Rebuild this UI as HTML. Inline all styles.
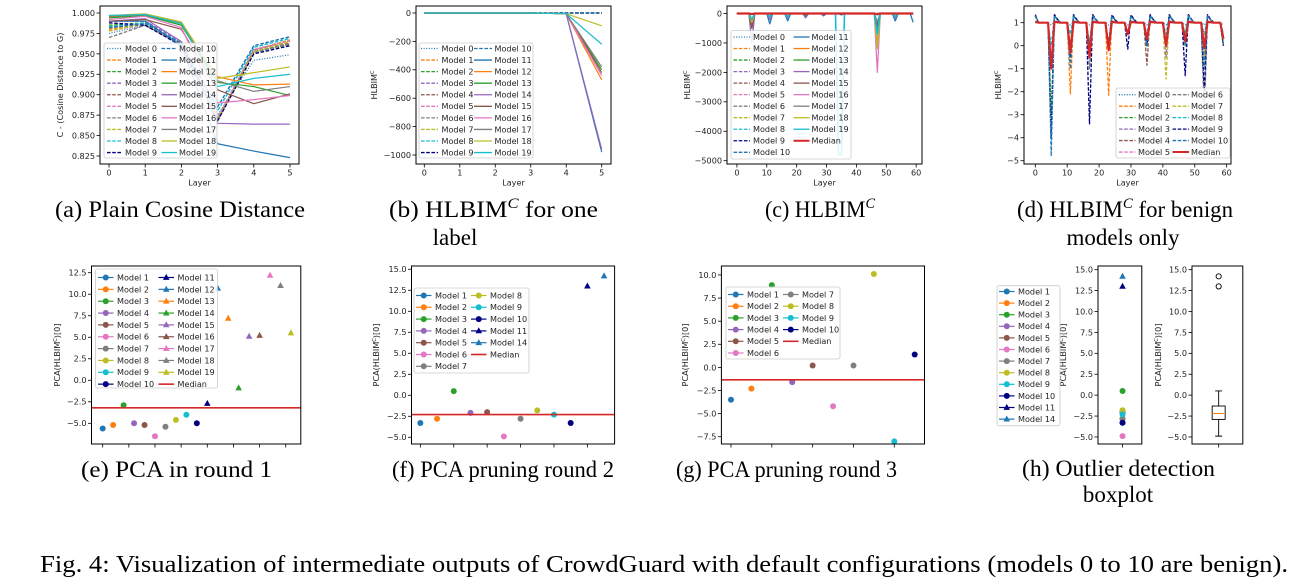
<!DOCTYPE html>
<html><head><meta charset="utf-8">
<style>
html,body{margin:0;padding:0;background:#fff;}
svg{display:block;}
.tk{font-family:"DejaVu Sans","Liberation Sans",sans-serif;font-size:8.1px;fill:#222;}
.cap{font-family:"Liberation Serif",serif;font-size:23px;fill:#000;}
</style></head>
<body>
<svg id="fig" width="1293" height="588" viewBox="0 0 1293 588" xmlns="http://www.w3.org/2000/svg">
<rect width="1293" height="588" fill="#fff"/>
<g>
<text class="cap" x="55" y="217" textLength="250" lengthAdjust="spacingAndGlyphs">(a) Plain Cosine Distance</text>
<text class="cap" x="389" y="217" textLength="209" lengthAdjust="spacingAndGlyphs">(b) HLBIM<tspan dy="-9" font-size="15" font-style="italic">C</tspan><tspan dy="9"> for one</tspan></text>
<text class="cap" x="455" y="245" text-anchor="middle">label</text>
<text class="cap" x="765" y="217" textLength="110" lengthAdjust="spacingAndGlyphs">(c) HLBIM<tspan dy="-9" font-size="15" font-style="italic">C</tspan></text>
<text class="cap" x="1017" y="217" textLength="216" lengthAdjust="spacingAndGlyphs">(d) HLBIM<tspan dy="-9" font-size="15" font-style="italic">C</tspan><tspan dy="9"> for benign</tspan></text>
<text class="cap" x="1123" y="245" text-anchor="middle">models only</text>
<text class="cap" x="81" y="477" textLength="191" lengthAdjust="spacingAndGlyphs">(e) PCA in round 1</text>
<text class="cap" x="392" y="477" textLength="222" lengthAdjust="spacingAndGlyphs">(f) PCA pruning round 2</text>
<text class="cap" x="676" y="477" textLength="221" lengthAdjust="spacingAndGlyphs">(g) PCA pruning round 3</text>
<text class="cap" x="1022" y="476" textLength="193" lengthAdjust="spacingAndGlyphs">(h) Outlier detection</text>
<text class="cap" x="1118" y="502" text-anchor="middle">boxplot</text>
<text class="cap" x="40" y="572" textLength="1248" lengthAdjust="spacingAndGlyphs" style="font-size:24px">Fig. 4: Visualization of intermediate outputs of CrowdGuard with default configurations (models 0 to 10 are benign).</text>
</g>
</svg>
<script>
// ---------- data ----------
const BLUE='#1f77b4',ORG='#ff7f0e',GRN='#2ca02c',PUR='#9467bd',BRN='#8c564b',PNK='#e377c2',GRY='#7f7f7f',OLV='#bcbd22',CYN='#17becf',NAV='#000080',RED='#d62728';
const topNames=['Model 0','Model 1','Model 2','Model 3','Model 4','Model 5','Model 6','Model 7','Model 8','Model 9','Model 10','Model 11','Model 12','Model 13','Model 14','Model 15','Model 16','Model 17','Model 18','Model 19'];
const topColors=[BLUE,ORG,GRN,PUR,BRN,PNK,GRY,OLV,CYN,NAV,BLUE,BLUE,ORG,GRN,PUR,BRN,PNK,GRY,OLV,CYN];
const layersA=[0,1,2,3,4,5];
const cosA=[
[.975,.985,.962,.875,.942,.949],[.980,.988,.963,.870,.955,.967],[.985,.988,.962,.870,.952,.962],
[.990,.990,.965,.868,.955,.965],[.982,.987,.962,.870,.953,.963],[.978,.986,.960,.872,.955,.966],
[.970,.985,.962,.870,.952,.962],[.978,.987,.962,.870,.953,.965],[.983,.988,.963,.880,.958,.969],
[.988,.985,.960,.868,.950,.960],[.982,.987,.963,.885,.960,.971],[.990,.990,.960,.840,.831,.823],
[.995,.998,.985,.922,.912,.913],[.994,.997,.985,.915,.910,.899],[.990,.993,.965,.865,.864,.864],
[.990,.992,.980,.906,.889,.901],[.992,.996,.982,.890,.894,.899],[.996,.998,.988,.917,.904,.910],
[.997,.999,.989,.920,.927,.934],[.997,.998,.987,.910,.920,.925]];
const yTicksA=[0.825,0.850,0.875,0.900,0.925,0.950,0.975,1.000];
const yLabelsA=['0.825','0.850','0.875','0.900','0.925','0.950','0.975','1.000'];
const hlbB=[
[0,0,0,0,0,0],[0,0,0,0,0,0],[0,0,0,0,0,0],[0,0,0,0,0,0],[0,0,0,0,0,0],[0,0,0,0,0,0],
[0,0,0,0,0,0],[0,0,0,0,0,0],[0,0,0,0,0,0],[0,0,0,0,0,0],[0,0,0,0,0,0],
[0,0,0,0,-5,-980],[0,0,0,0,-5,-470],[0,0,0,0,-5,-400],[0,0,0,0,-5,-960],[0,0,0,0,-5,-420],
[0,0,0,0,-5,-440],[0,0,0,0,-5,-380],[0,0,0,0,-5,-90],[0,0,0,0,-5,-220]];
const yTicksB=[0,-200,-400,-600,-800,-1000];
const xTicksC=[0,10,20,30,40,50,60];
// spikes: [layer,value] pairs, other layers are 0
const spikesC=[
[[5,-8],[11,-4],[47,-6]],[[5,-10],[11,-5]],[[5,-12],[47,-8]],[[5,-9]],[[5,-8]],[[5,-7]],[[5,-10]],[[5,-6]],[[5,-9]],[[5,-14],[17,-6]],[[5,-20]],
[[5,-300],[11,-350],[17,-250],[23,-100],[29,-80],[35,-50],[47,-300],[53,-250],[59,-300]],
[[5,-200],[11,-100],[17,-100],[23,-50],[47,-1000],[53,-100]],
[[5,-400],[11,-100],[17,-120],[23,-50],[47,-600],[53,-100]],
[[5,-1000],[11,-200],[17,-150],[23,-150],[29,-50],[47,-500],[53,-150]],
[[5,-500],[11,-100],[17,-100],[47,-400],[53,-100]],
[[5,-300],[11,-100],[17,-100],[47,-2000],[53,-100]],
[[5,-200],[11,-100],[17,-100],[47,-300],[53,-100]],
[[5,-300],[11,-100],[17,-100],[47,-1200],[53,-100]],
[[5,-200],[11,-100],[17,-100],[34,-4800],[35,-4800],[47,-700],[53,-100]]];
const medianSpikesC=[[5,-20],[47,-30]];
const yTicksC=[0,-1000,-2000,-3000,-4000,-5000];
const spikeLayersD=[5,11,17,23,29,35,41,47,53,59];
const depthD=[
[0.9,0.9,0.9,0.9,0.9,0.9,0.9,0.9,0.9,0.9],
[-1,-2.1,0,-2.15,0.5,0,0,0,-0.5,0],
[-3,0,0,0,0.5,0,0,0.5,-1,0],
[-1,0,0,0,0.5,0,-0.5,0,0,0],
[-1,0,0,0,0.5,-0.85,0,0,0,0],
[-1,0,0,0,0.5,0,0,0,0,0],
[-1,0,-1,0,0.5,0,0,0,-3,0],
[-1,0,0,0,0.5,0,-1.45,0,0,0],
[0,0.5,0,0,0.5,0.5,0.5,0.5,0.5,0.5],
[-4,-0.5,-3.4,0,-0.15,0,0,-1.3,-2,0],
[-4.8,-1,0,0,0.5,0,0,0,-1,0]];
const bumpD=[1.0,1.3,1.3,1.3,1.3,1.3,1.3,1.3,1.3,1.35,1.3];
const medianD=[-1,-0.3,-0.5,-0.2,0.5,0.3,0,0.2,-0.1,0.3];
const yTicksD=[1,0,-1,-2,-3,-4,-5];
const namesE=['Model 1','Model 2','Model 3','Model 4','Model 5','Model 6','Model 7','Model 8','Model 9','Model 10','Model 11','Model 12','Model 13','Model 14','Model 15','Model 16','Model 17','Model 18','Model 19'];
const valsE=[-5.6,-5.2,-2.9,-5.0,-5.2,-6.5,-5.4,-4.6,-4.0,-5.0,-2.7,10.7,7.2,-0.9,5.1,5.2,12.2,11.0,5.5];
const colorsE=[BLUE,ORG,GRN,PUR,BRN,PNK,GRY,OLV,CYN,NAV,NAV,BLUE,ORG,GRN,PUR,BRN,PNK,GRY,OLV];
const medianE=-3.2;
const yTicksE=[-5,-2.5,0,2.5,5,7.5,10,12.5];
const namesF=['Model 1','Model 2','Model 3','Model 4','Model 5','Model 6','Model 7','Model 8','Model 9','Model 10','Model 11','Model 14'];
const valsF=[-3.3,-2.8,0.5,-2.1,-2.0,-4.9,-2.8,-1.8,-2.3,-3.3,13.0,14.2];
const colorsF=[BLUE,ORG,GRN,PUR,BRN,PNK,GRY,OLV,CYN,NAV,NAV,BLUE];
const medianF=-2.3;
const yTicksF=[-5,-2.5,0,2.5,5,7.5,10,12.5,15];
const namesG=['Model 1','Model 2','Model 3','Model 4','Model 5','Model 6','Model 7','Model 8','Model 9','Model 10'];
const valsG=[-3.5,-2.3,8.9,-1.6,0.2,-4.2,0.2,10.1,-8.0,1.4];
const colorsG=[BLUE,ORG,GRN,PUR,BRN,PNK,GRY,OLV,CYN,NAV];
const medianG=-1.35;
const yTicksG=[-7.5,-5,-2.5,0,2.5,5,7.5,10];
const boxStats=[-4.9,-2.9,-2.2,-1.3,0.5]; // whisker low, q1, median, q3, whisker high
const outliersH=[13.0,14.2];

// ---------- helpers ----------
const NS='http://www.w3.org/2000/svg';
const svg=document.getElementById('fig');
function mk(tag,parent,name){const e=document.createElementNS(NS,tag);


parent.appendChild(e);return e;}
function at(e,o){for(const k in o)e.setAttribute(k,o[k]);return e;}
function fmt(v,d){return (v<0?'\u2212':'')+Math.abs(v).toFixed(d);}
function axes(name,L,R,T,B,xd,yd){
  const g=mk('g',svg,name);
  const sx=v=>L+(v-xd[0])/(xd[1]-xd[0])*(R-L);
  const sy=v=>B-(v-yd[0])/(yd[1]-yd[0])*(B-T);
  const clip=mk('clipPath',g,name+'-clip');clip.id=name+'-clip';
  at(mk('rect',clip,name+'-clip-rect'),{x:L,y:T,width:R-L,height:B-T});
  const plot=mk('g',g,name+'-plot');plot.setAttribute('clip-path','url(#'+name+'-clip)');
  return {g,plot,sx,sy,L,R,T,B};
}
function frame(a){at(mk('rect',a.g,'axes-frame'),{x:a.L,y:a.T,width:a.R-a.L,height:a.B-a.T,fill:'none',stroke:'#000','stroke-width':1});}
function xticks(a,ticks,labels){ticks.forEach((t,i)=>{const x=a.sx(t);
  at(mk('line',a.g,'x-tick'),{x1:x,x2:x,y1:a.B,y2:a.B+3.5,stroke:'#000','stroke-width':0.8});
  if(labels){const tx=mk('text',a.g,'x-tick-label');at(tx,{x:x,y:a.B+11.5,'text-anchor':'middle',class:'tk'});tx.textContent=labels[i];}});}
function yticks(a,ticks,labels){ticks.forEach((t,i)=>{const y=a.sy(t);
  at(mk('line',a.g,'y-tick'),{x1:a.L-3.5,x2:a.L,y1:y,y2:y,stroke:'#000','stroke-width':0.8});
  const tx=mk('text',a.g,'y-tick-label');at(tx,{x:a.L-5,y:y+2.9,'text-anchor':'end',class:'tk'});tx.textContent=labels[i];});}
function xlabel(a,t){const tx=mk('text',a.g,'x-axis-title');at(tx,{x:(a.L+a.R)/2,y:a.B+21.5,'text-anchor':'middle',class:'tk'});tx.textContent=t;}
function ylabel(a,x,parts){const tx=mk('text',a.g,'y-axis-title');const cy=(a.T+a.B)/2;
  at(tx,{x:x,y:cy,'text-anchor':'middle',class:'tk',transform:'rotate(-90 '+x+' '+cy+')'});
  parts.forEach(p=>{const ts=mk('tspan',tx,'y-axis-title-part');ts.textContent=p[0];if(p[1])at(ts,{'baseline-shift':'super','font-size':'5px'});});}
const DOT='1,1.6',DASH='3.6,1.6';
function styleTop(i){return i===0?DOT:(i<=10?DASH:null);}
function polyline(parent,xs,ys,a,color,dash,w,name){const p=mk('polyline',parent,name);
  at(p,{points:xs.map((x,i)=>a.sx(x).toFixed(2)+','+a.sy(ys[i]).toFixed(2)).join(' '),fill:'none',stroke:color,'stroke-width':w,'stroke-linejoin':'round'});
  if(dash)p.setAttribute('stroke-dasharray',dash);return p;}
function legendBox(parent,x,y,w,h){at(mk('rect',parent,'legend-frame'),{x:x,y:y,width:w,height:h,rx:2,fill:'#fff','fill-opacity':0.85,stroke:'#ccc','stroke-width':0.8});}
function legendEntry(parent,lx1,lx2,tx,y,color,dash,w,label,marker){
  const g=mk('g',parent,'legend-entry');
  const l=at(mk('line',g,'legend-handle'),{x1:lx1,x2:lx2,y1:y,y2:y,stroke:color,'stroke-width':w});
  if(dash)l.setAttribute('stroke-dasharray',dash);
  if(marker)drawMarker(g,(lx1+lx2)/2,y,color,marker,'legend-marker');
  const t=mk('text',g,'legend-label');at(t,{x:tx,y:y+2.9,class:'tk'});t.textContent=label;}
function drawMarker(parent,x,y,color,kind,name){
  if(kind==='o')at(mk('circle',parent,name),{cx:x,cy:y,r:3,fill:color});
  else at(mk('polygon',parent,name),{points:(x)+','+(y-3.6)+' '+(x+3.3)+','+(y+2.4)+' '+(x-3.3)+','+(y+2.4),fill:color});}

// ---------- (a) ----------
(function(){const a=axes('chart-a',100,299,6,164,[-0.2486,5.249],[0.8152,1.00857]);
 cosA.forEach((s,i)=>polyline(a.plot,layersA,s,a,topColors[i],styleTop(i),i<=10&&i>0?1.4:1.2,'line-model-'+i));
 frame(a);xticks(a,layersA,layersA.map(String));yticks(a,yTicksA,yLabelsA);xlabel(a,'Layer');
 ylabel(a,63,[['C - (Cosine Distance to G)']]);
 const lg=mk('g',a.g,'legend-a');legendBox(lg,104,43,113,115);
 topNames.forEach((n,i)=>{const c=i<10?0:1,r=i%10;const y=48.5+r*11.56;
  legendEntry(lg,c?161.5:107,c?177:121.5,c?179:125,y,topColors[i],styleTop(i),1.3,n);});})();
// ---------- (b) ----------
(function(){const a=axes('chart-b',416,611,6,164,[-0.234,5.262],[-1063.4,49.3]);
 hlbB.forEach((s,i)=>polyline(a.plot,layersA,s,a,topColors[i],styleTop(i),1.2,'line-model-'+i));
 frame(a);xticks(a,layersA,layersA.map(String));yticks(a,yTicksB,yTicksB.map(v=>fmt(v,0)));xlabel(a,'Layer');
 ylabel(a,377,[['HLBIM'],['C',1]]);
 const lg=mk('g',a.g,'legend-b');legendBox(lg,419,43,114,115);
 topNames.forEach((n,i)=>{const c=i<10?0:1,r=i%10;const y=48.5+r*11.56;
  legendEntry(lg,c?474:421,c?492:438,c?494.5:441.5,y,topColors[i],styleTop(i),1.3,n);});})();
// ---------- (c) ----------
(function(){const a=axes('chart-c',727,922,6,164,[-3.32,61.96],[-5112,254.8]);
 const xs=[];for(let l=0;l<60;l++)xs.push(l);
 function series(sp){const ys=xs.map(()=>0);sp.forEach(p=>{ys[p[0]]=p[1];});return ys;}
 spikesC.forEach((sp,i)=>polyline(a.plot,xs,series(sp),a,topColors[i],styleTop(i),i===19?1.6:1.3,'line-model-'+i));
 polyline(a.plot,xs,series(medianSpikesC),a,RED,null,2.2,'line-median');
 frame(a);xticks(a,xTicksC,xTicksC.map(String));yticks(a,yTicksC,yTicksC.map(v=>fmt(v,0)));xlabel(a,'Layer');
 ylabel(a,690,[['HLBIM'],['C',1]]);
 const lg=mk('g',a.g,'legend-c');legendBox(lg,731,30.5,120,128.5);
 const names=topNames.concat(['Median']),cols=topColors.concat([RED]);
 names.forEach((n,i)=>{const c=i<11?0:1,r=i<11?i:i-11;const y=37+r*11.53;
  legendEntry(lg,c?793.5:733.5,c?809.5:750,c?811.5:753,y,cols[i],i<20?styleTop(i):null,i===20?2:1.3,n);});})();
// ---------- (d) ----------
(function(){const a=axes('chart-d',1024,1231,6,164,[-3.54,61.36],[-5.143,1.726]);
 const xs=[];for(let l=0;l<60;l++)xs.push(l);
 function series(d,b){const ys=xs.map(()=>1);ys[0]=b;spikeLayersD.forEach((L,k)=>{ys[L]=d[k];if(L+1<60)ys[L+1]=b;if(L+2<60)ys[L+2]=1+(b-1)*0.4;});return ys;}
 depthD.forEach((d,i)=>polyline(a.plot,xs,series(d,bumpD[i]),a,topColors[i],styleTop(i),1.3,'line-model-'+i));
 polyline(a.plot,xs,series(medianD,1.05),a,RED,null,2.2,'line-median');
 frame(a);xticks(a,xTicksC,xTicksC.map(String));yticks(a,yTicksD,yTicksD.map(v=>fmt(v,0)));xlabel(a,'Layer');
 ylabel(a,1001,[['HLBIM'],['C',1]]);
 const lg=mk('g',a.g,'legend-d');legendBox(lg,1116,88,114,70);
 const names=topNames.slice(0,11).concat(['Median']),cols=topColors.slice(0,11).concat([RED]);
 names.forEach((n,i)=>{const c=i<6?0:1,r=i%6;const y=94.7+r*11.47;
  legendEntry(lg,c?1172.5:1119,c?1189:1135.5,c?1191:1138,y,cols[i],i<11?styleTop(i):null,i===11?2:1.3,n);});})();
// ---------- scatter helper ----------
function pca(name,L,R,xd,yd,vals,cols,names,med,yt,xtk,ylx,leg){
 const a=axes(name,L,R,266,444,xd,yd);
 vals.forEach((v,i)=>drawMarker(a.plot,a.sx(i),a.sy(v),cols[i],names[i].match(/\d+/)[0]>10?'^':'o','point-'+names[i].toLowerCase().replace(' ','-')));
 at(mk('line',a.plot,'median-line'),{x1:a.L,x2:a.R,y1:a.sy(med),y2:a.sy(med),stroke:RED,'stroke-width':1.6});
 frame(a);xticks(a,xtk,null);yticks(a,yt,yt.map(v=>fmt(v,1)));
 ylabel(a,ylx,[['PCA(HLBIM'],['C',1],[')[0]']]);
 const lg=mk('g',a.g,'legend-'+name);legendBox(lg,leg.x,leg.y,leg.w,leg.h);
 const all=names.concat(['Median']),ac=cols.concat([RED]);
 all.forEach((n,i)=>{const c=i<leg.rows?0:1,r=i<leg.rows?i:i-leg.rows;const y=leg.y0+r*leg.dy;
  const isMed=i===all.length-1;
  legendEntry(lg,c?leg.c2:leg.c1,(c?leg.c2:leg.c1)+15.5,(c?leg.c2:leg.c1)+19,y,ac[i],null,isMed?1.6:1.2,n,isMed?null:(n.match(/\d+/)[0]>10?'^':'o'));});
 return a;}
pca('chart-e',91.5,300.8,[-1.07,18.94],[-7.405,13.28],valsE,colorsE,namesE,medianE,yTicksE,[0,2.5,5,7.5,10,12.5,15,17.5],60,
 {x:95.5,y:269,w:122,h:119,rows:10,y0:277.5,dy:11.85,c1:98,c2:158.5});
pca('chart-f',411.5,614.6,[-0.53,11.63],[-5.80,15.39],valsF,colorsF,namesF,medianF,yTicksF,[0,2,4,6,8,10],379,
 {x:414,y:288,w:115,h:85,rows:7,y0:295.5,dy:11.8,c1:416,c2:471});
pca('chart-g',721.4,924.5,[-0.47,9.48],[-8.29,10.97],valsG,colorsG,namesG,medianG,yTicksG,[0,2,4,6,8],688,
 {x:726,y:287,w:114,h:72,rows:6,y0:294.5,dy:11.7,c1:728,c2:783});
// ---------- (h) ----------
(function(){const namesH=namesF,valsH=valsF,colsH=colorsF;
 const a=axes('chart-h-scatter',1098,1141.8,266,444,[-1.12,0.88],[-5.84,15.44]);
 valsH.forEach((v,i)=>drawMarker(a.plot,a.sx(0),a.sy(v),colsH[i],i>=10?'^':'o','point-'+namesH[i].toLowerCase().replace(' ','-')));
 frame(a);xticks(a,[0],null);yticks(a,yTicksF,yTicksF.map(v=>fmt(v,1)));
 ylabel(a,1066,[['PCA(HLBIM'],['C',1],[')[0]']]);
 const lg=mk('g',svg,'legend-h');legendBox(lg,997,285.7,63,140);
 namesH.forEach((n,i)=>legendEntry(lg,999,1014.5,1018,291.5+i*11.6,colsH[i],null,1.2,n,i>=10?'^':'o'));
 const b=axes('chart-h-boxplot',1192,1242.8,266,444,[-1,1],[-5.84,15.44]);
 const cx=b.sx(0.05),hw=6.5,bg=b.plot;
 at(mk('line',bg,'whisker-low'),{x1:cx,x2:cx,y1:b.sy(boxStats[0]),y2:b.sy(boxStats[1]),stroke:'#000','stroke-width':0.9});
 at(mk('line',bg,'whisker-high'),{x1:cx,x2:cx,y1:b.sy(boxStats[3]),y2:b.sy(boxStats[4]),stroke:'#000','stroke-width':0.9});
 at(mk('line',bg,'cap-low'),{x1:cx-3.5,x2:cx+3.5,y1:b.sy(boxStats[0]),y2:b.sy(boxStats[0]),stroke:'#000','stroke-width':0.9});
 at(mk('line',bg,'cap-high'),{x1:cx-3.5,x2:cx+3.5,y1:b.sy(boxStats[4]),y2:b.sy(boxStats[4]),stroke:'#000','stroke-width':0.9});
 at(mk('rect',bg,'box'),{x:cx-hw,y:b.sy(boxStats[3]),width:2*hw,height:b.sy(boxStats[1])-b.sy(boxStats[3]),fill:'none',stroke:'#000','stroke-width':0.9});
 at(mk('line',bg,'median'),{x1:cx-hw,x2:cx+hw,y1:b.sy(boxStats[2]),y2:b.sy(boxStats[2]),stroke:ORG,'stroke-width':1});
 outliersH.forEach(v=>at(mk('circle',bg,'outlier'),{cx:cx,cy:b.sy(v),r:2.6,fill:'none',stroke:'#000','stroke-width':0.9}));
 frame(b);xticks(b,[0.05],null);yticks(b,yTicksF,yTicksF.map(v=>fmt(v,1)));
 ylabel(b,1161,[['PCA(HLBIM'],['C',1],[')[0]']]);})();
</script>
</body></html>
